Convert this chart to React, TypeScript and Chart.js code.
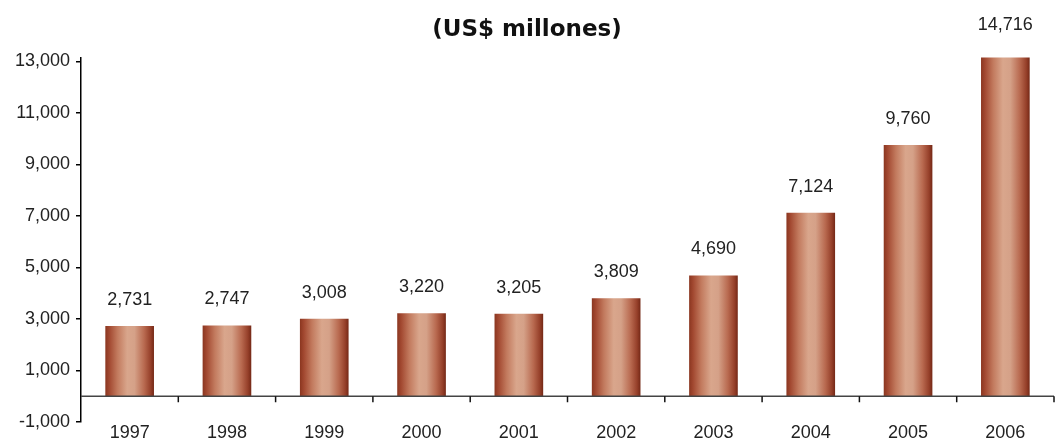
import React, { useEffect, useRef } from "react";
import { Chart, registerables } from "chart.js";

Chart.register(...registerables);

const title = "(US$ millones)";
const years = ["1997", "1998", "1999", "2000", "2001", "2002", "2003", "2004", "2005", "2006"];
const values = [2731, 2747, 3008, 3220, 3205, 3809, 4690, 7124, 9760, 14716];
const valueLabels = ["2,731", "2,747", "3,008", "3,220", "3,205", "3,809", "4,690", "7,124", "9,760", "14,716"];
const yTickValues = [-1000, 1000, 3000, 5000, 7000, 9000, 11000, 13000];
const yMin = -1000;
const yMax = 13150;

const FONT = "'Liberation Sans', Arial, sans-serif";
const FONT_SIZE = 18;
const TEXT_COLOR = "#222222";
const BAR_FRACTION = 0.5;

const gradientStops: [number, string][] = [
  [0, "#8a3620"],
  [0.08, "#a24830"],
  [0.25, "#c27a5e"],
  [0.45, "#d9a68c"],
  [0.6, "#d5a188"],
  [0.8, "#b8694f"],
  [0.93, "#96402a"],
  [1, "#742816"],
];

const annotatePlugin = {
  id: "annotate",
  afterDatasetsDraw(chart: any) {
    const { ctx, chartArea, scales } = chart;
    const x = scales.x;
    const y = scales.y;
    const zeroY = y.getPixelForValue(0);
    ctx.save();
    // zero line
    ctx.strokeStyle = "#444444";
    ctx.lineWidth = 1.5;
    ctx.beginPath();
    ctx.moveTo(chartArea.left, zeroY);
    ctx.lineTo(chartArea.right, zeroY);
    ctx.stroke();
    // category boundary tick marks below zero line
    const n = years.length;
    const step = (chartArea.right - chartArea.left) / n;
    ctx.strokeStyle = "#111111";
    ctx.lineWidth = 1.5;
    for (let i = 0; i < n; i++) {
      const bx = x.getPixelForValue(i) + step / 2;
      ctx.beginPath();
      ctx.moveTo(bx, zeroY);
      ctx.lineTo(bx, zeroY + 6);
      ctx.stroke();
    }
    // value labels
    ctx.fillStyle = TEXT_COLOR;
    ctx.font = `${FONT_SIZE}px ${FONT}`;
    ctx.textAlign = "center";
    ctx.textBaseline = "middle";
    const meta = chart.getDatasetMeta(0);
    meta.data.forEach((bar: any, i: number) => {
      const top = bar.y;
      let ly;
      if (top < chartArea.top) ly = chartArea.top - 33;
      else ly = top - 26;
      ctx.fillText(valueLabels[i], bar.x, ly);
    });
    ctx.restore();
  },
};

export default function App() {
  const ref = useRef<HTMLCanvasElement | null>(null);
  useEffect(() => {
    document.body.style.margin = "0";
    const canvas = ref.current;
    if (!canvas) return;
    const chart = new Chart(canvas, {
      type: "bar",
      data: {
        labels: years,
        datasets: [
          {
            data: values,
            backgroundColor: (c: any) => {
              const ch = c.chart;
              const area = ch.chartArea;
              const xs = ch.scales?.x;
              if (!area || !xs || c.dataIndex === undefined) return "#c07a5e";
              const cx = xs.getPixelForValue(c.dataIndex);
              const w = ((area.right - area.left) / years.length) * BAR_FRACTION;
              const g = ch.ctx.createLinearGradient(cx - w / 2, 0, cx + w / 2, 0);
              gradientStops.forEach(([o, col]) => g.addColorStop(o, col));
              return g;
            },
            borderWidth: 0,
            barPercentage: BAR_FRACTION,
            categoryPercentage: 1,
          },
        ],
      },
      options: {
        responsive: false,
        animation: false,
        layout: { padding: { left: 0, right: 2, top: 0, bottom: 0 } },
        plugins: {
          legend: { display: false },
          tooltip: { enabled: false },
          title: {
            display: true,
            text: title,
            color: "#111111",
            font: { family: "'DejaVu Sans', sans-serif", size: 23, weight: "bold" },
            padding: { top: 16, bottom: 14 },
          },
        },
        scales: {
          x: {
            type: "category",
            grid: { display: false, drawTicks: false },
            border: { display: false },
            ticks: {
              color: TEXT_COLOR,
              font: { family: FONT, size: FONT_SIZE, lineHeight: 22 / FONT_SIZE },
              padding: 0,
              maxRotation: 0,
              autoSkip: false,
            },
          },
          y: {
            type: "linear",
            min: yMin,
            max: yMax,
            afterBuildTicks: (s: any) => {
              s.ticks = yTickValues.map((v) => ({ value: v }));
            },
            afterFit: (s: any) => {
              s.width = 81;
            },
            grid: {
              display: true,
              drawOnChartArea: false,
              drawTicks: true,
              tickLength: 5,
              color: "#000000",
              lineWidth: 1.5,
            },
            border: { display: true, color: "#000000", width: 1.5 },
            ticks: {
              color: TEXT_COLOR,
              padding: 6,
              font: { family: FONT, size: FONT_SIZE },
              callback: (v: any) => Number(v).toLocaleString("en-US"),
            },
          },
        },
      },
      plugins: [annotatePlugin],
    });
    return () => chart.destroy();
  }, []);
  return (
    <div style={{ width: 1056, height: 444 }}>
      <canvas ref={ref} width={1056} height={444} />
    </div>
  );
}
